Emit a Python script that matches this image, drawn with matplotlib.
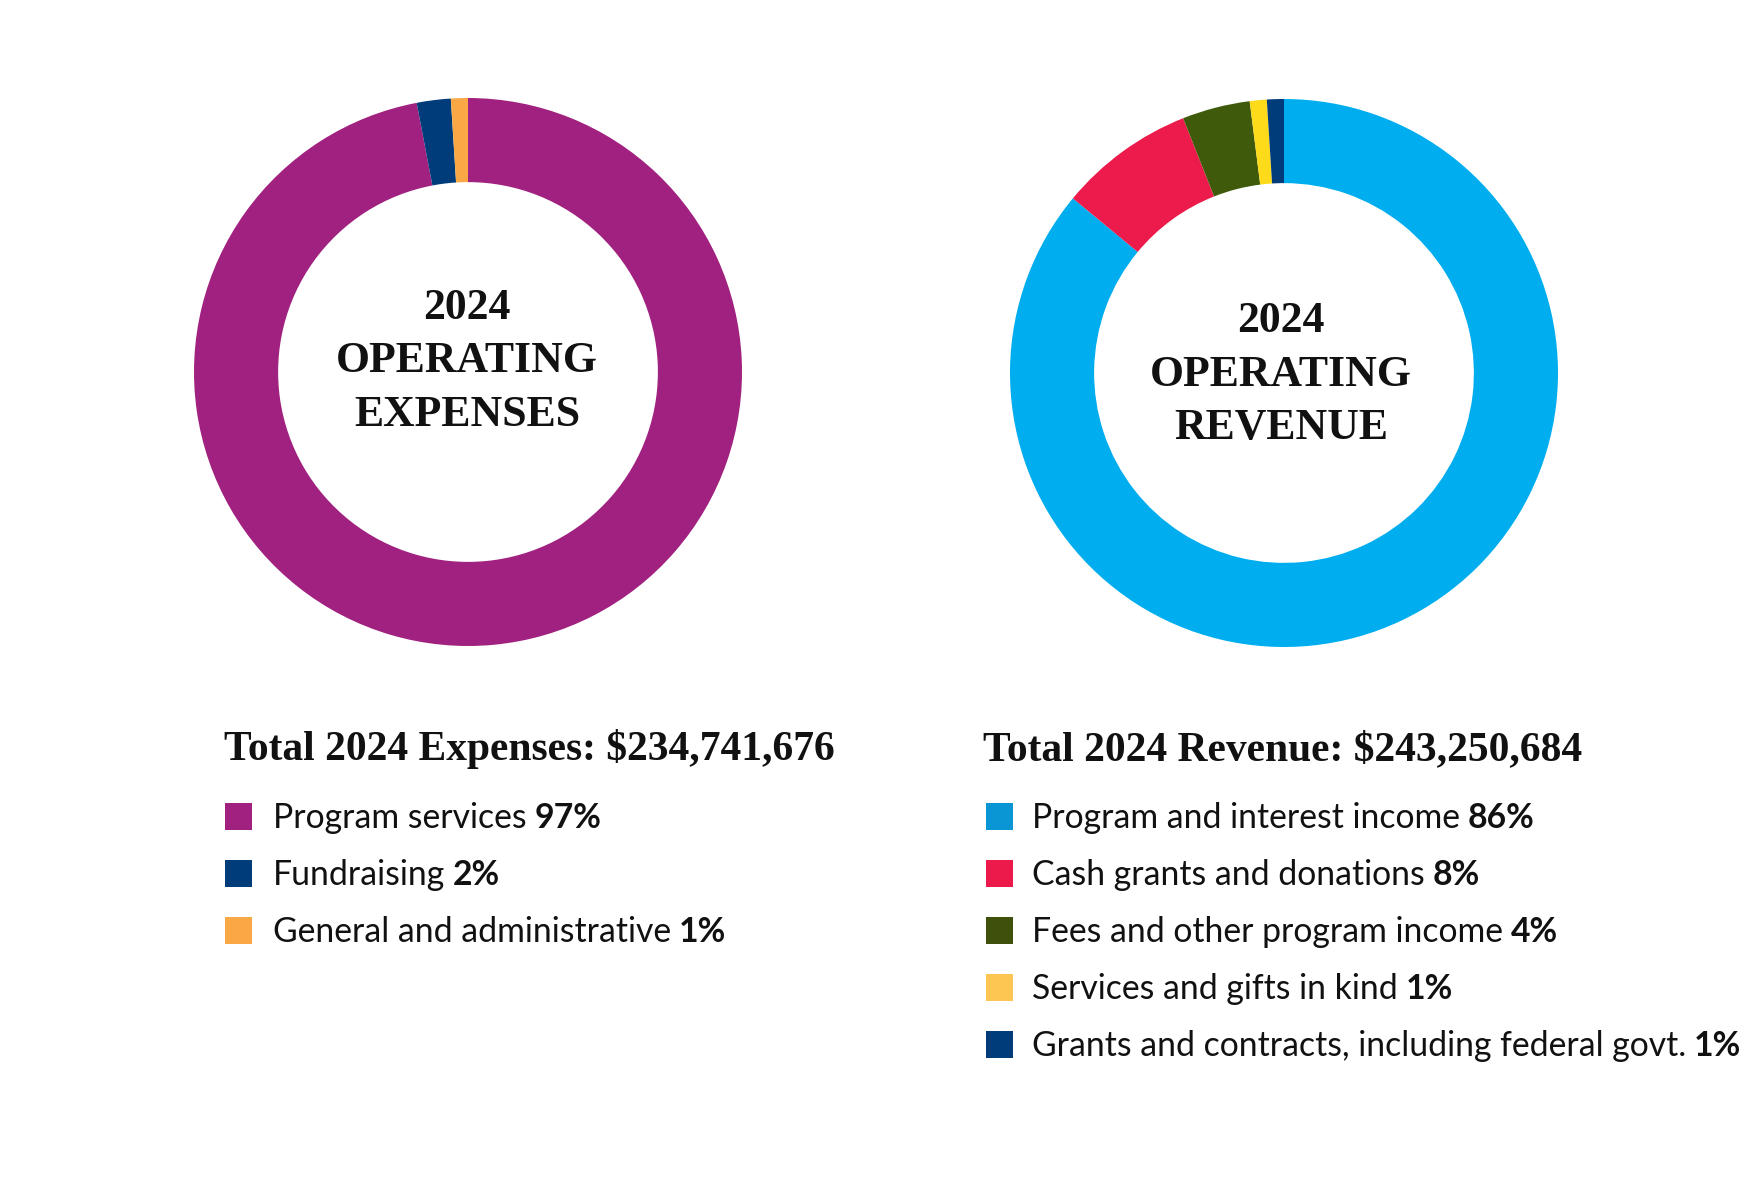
import matplotlib
matplotlib.use('Agg')
from matplotlib import pyplot as plt
from matplotlib.patches import Rectangle
from matplotlib import font_manager

# data
exp_labels = ['Program services', 'Fundraising', 'General and administrative']
exp_pcts = [97, 2, 1]
exp_colors = ['#a02180', '#003b7a', '#f9a845']
exp_total = 'Total 2024 Expenses: $234,741,676'
exp_center = ['2024', 'OPERATING', 'EXPENSES']

rev_labels = ['Program and interest income', 'Cash grants and donations',
              'Fees and other program income', 'Services and gifts in kind',
              'Grants and contracts, including federal govt.']
rev_pcts = [86, 8, 4, 1, 1]
rev_colors = ['#00adee', '#ed1b4b', '#3f5a0b', '#fddb1a', '#003b7a']
rev_legend_colors = ['#0a96d4', '#ec1a4b', '#3e500a', '#fdc552', '#003b7a']
rev_total = 'Total 2024 Revenue: $243,250,684'
rev_center = ['2024', 'OPERATING', 'REVENUE']

W, H = 1760, 1184

installed = {f.name for f in font_manager.fontManager.ttflist}
sans = 'Lato' if 'Lato' in installed else 'DejaVu Sans'
serif = 'Liberation Serif' if 'Liberation Serif' in installed else 'DejaVu Serif'

fig = plt.figure(figsize=(W / 100, H / 100), dpi=100)
fig.patch.set_facecolor('white')


def donut(cx, cy, r, pcts, colors):
    ax = fig.add_axes([(cx - r) / W, (H - cy - r) / H, 2 * r / W, 2 * r / H])
    ax.pie(pcts, colors=colors, startangle=90, counterclock=False, radius=1,
           wedgeprops=dict(width=0.307, linewidth=0))
    ax.set_xlim(-1, 1)
    ax.set_ylim(-1, 1)
    ax.axis('off')


donut(468, 372, 274, exp_pcts, exp_colors)
donut(1284, 373, 274, rev_pcts, rev_colors)

# overlay in pixel coordinates
ov = fig.add_axes([0, 0, 1, 1])
ov.set_xlim(0, W)
ov.set_ylim(H, 0)
ov.axis('off')


def center_text(cx, base, lines):
    for i, s in enumerate(lines):
        ov.text(cx, base + i * 53.5, s, ha='center', va='baseline',
                family=serif, weight='bold', size=31.5, color='#111111')


center_text(467, 319, exp_center)
center_text(1281, 332, rev_center)


def legend(x_title, x_sq, x_txt, title, labels, pcts, colors):
    ov.text(x_title, 760, title, ha='left', va='baseline', family=serif,
            weight='bold', size=29.9, color='#111111')
    for i, (lab, p, c) in enumerate(zip(labels, pcts, colors)):
        yc = 817 + i * 57
        ov.add_patch(Rectangle((x_sq, yc - 14), 27, 27, facecolor=c, edgecolor='none'))
        t = ov.text(x_txt, yc + 11, lab, ha='left', va='baseline', family=sans,
                    size=24.3, color='#111111')
        ov.annotate(f'{p}%', xy=(1, 0), xycoords=t, xytext=(8, 0),
                    textcoords='offset pixels', ha='left', va='bottom',
                    family=sans, weight='bold', size=24.3, color='#111111')


legend(224, 225, 273, exp_total, exp_labels, exp_pcts, exp_colors)
legend(983, 986, 1032, rev_total, rev_labels, rev_pcts, rev_legend_colors)

fig.savefig('out.png', dpi=100, facecolor='white')
